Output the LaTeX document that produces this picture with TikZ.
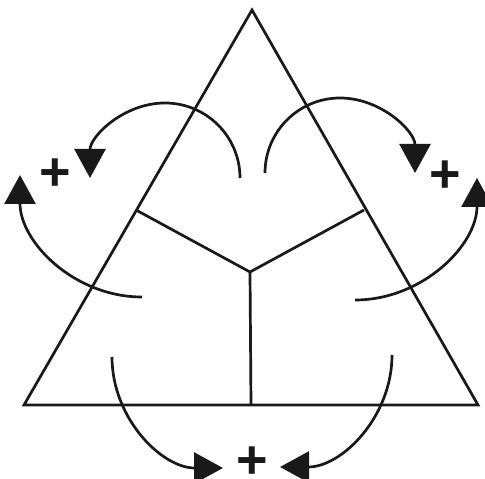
\documentclass[tikz,border=0pt]{standalone}
\usepackage{fontspec}
\setmainfont{Liberation Sans}
\usetikzlibrary{arrows.meta}
\begin{document}
\begin{tikzpicture}[x=1pt,y=1pt,
  edge/.style={line width=2.7pt,draw=black!90},
  rot/.style={line width=2.7pt,draw=black!90,-{Triangle[length=29pt,width=31pt]}},
  plus/.style={inner sep=0pt,font=\fontsize{54}{54}\selectfont\bfseries,text=black!90}]
\useasboundingbox (0,0) rectangle (485,479);
% triangle
\coordinate (A) at (252,469);
\coordinate (L) at (24,74);
\coordinate (R) at (478,74);
\coordinate (C) at (250,207);
\coordinate (ML) at (136,269);
\coordinate (MR) at (364,269);
\coordinate (MB) at (251,74);
\draw[edge,line join=miter] (A) -- (L) -- (R) -- cycle;
\draw[edge] (ML) -- (C) -- (MR);
\draw[edge] (C) -- (MB);
% rotation arrows
\coordinate (s1) at (240,301);
\coordinate (s2) at (265,306);
\coordinate (s3) at (142,182);
\coordinate (s4) at (355,179);
\coordinate (s5) at (112,122);
\coordinate (s6) at (392,124);
\draw[rot] (s1) arc[start angle=0,end angle=180,radius=75];
\draw[rot] (s2) arc[start angle=180,end angle=0,radius=75];
\draw[rot] (s3) arc[start angle=270,end angle=180,radius=122];
\draw[rot] (s4) arc[start angle=270,end angle=360,radius=122];
\draw[rot] (s5) arc[start angle=180,end angle=270,radius=111];
\draw[rot] (s6) arc[start angle=0,end angle=-90,radius=112];
% plus signs
\node[plus] (p1) at (55,304) {+};
\node[plus] (p2) at (445,302) {+};
\node[plus] (p3) at (252,16) {+};
\end{tikzpicture}
\end{document}
